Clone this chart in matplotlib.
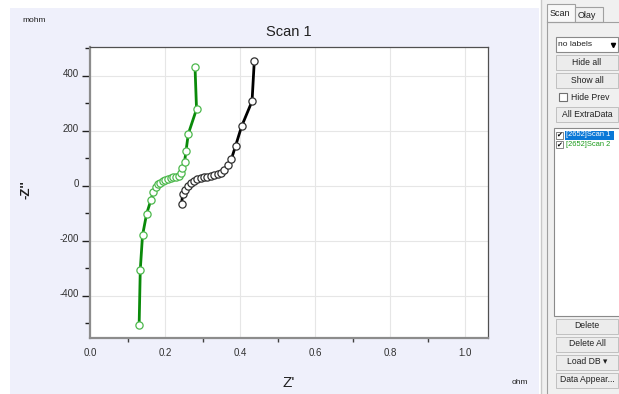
import numpy as np
import matplotlib
matplotlib.use("Agg")
import matplotlib.pyplot as plt
from matplotlib.patches import Rectangle
from matplotlib.ticker import FixedLocator
import matplotlib.transforms as mtransforms

plt.rcParams["font.family"] = ["Liberation Sans", "DejaVu Sans"]

# -----------------------------
# data (Z' in ohm, -Z'' in mohm)
# -----------------------------
scan1_zre = [0.244, 0.247, 0.253, 0.260, 0.268, 0.277, 0.286, 0.295, 0.304, 0.313, 0.322,
             0.331, 0.340, 0.349, 0.358, 0.367, 0.377, 0.388, 0.404, 0.432, 0.438]
scan1_zim = [-66, -31, -15, -2, 12, 19, 25, 29, 32, 34, 35,
             38, 42, 48, 59, 75, 98, 145, 216, 308, 455]

scan2_zre = [0.131, 0.134, 0.140, 0.151, 0.162, 0.169, 0.175, 0.181, 0.187, 0.194, 0.201, 0.208,
             0.215, 0.222, 0.229, 0.236, 0.242, 0.245, 0.252, 0.256, 0.262, 0.284, 0.280]
scan2_zim = [-505, -305, -180, -101, -53, -21, -3, 6, 12, 16, 20, 24,
             28, 32, 34, 37, 46, 66, 87, 127, 189, 279, 431]

x_ticks = [0.0, 0.2, 0.4, 0.6, 0.8, 1.0]
y_ticks = [-400, -200, 0, 200, 400]

list_items = ["[2652]Scan 1", "[2652]Scan 2"]
top_buttons = ["Hide all", "Show all"]
bottom_buttons = ["Delete", "Delete All", "Load DB \u25be", "Data Appear..."]

W, H = 619, 394
fig = plt.figure(figsize=(W / 100, H / 100), dpi=100)
fig.patch.set_facecolor("white")

# -----------------------------
# background / window (pixel coords)
# -----------------------------
bg = fig.add_axes([0, 0, 1, 1], zorder=0)
bg.set_xlim(0, W)
bg.set_ylim(H, 0)
bg.axis("off")

bg.add_patch(Rectangle((10, 8), 529, 386, facecolor="#eff0fb", edgecolor="none"))
bg.add_patch(Rectangle((541, 0), 78, H, facecolor="#f0f0f0", edgecolor="none"))
bg.plot([541, 541], [0, H], color="#c8c8c8", lw=1)
bg.plot([547, 547], [22, H], color="#a0a0a0", lw=0.8)
bg.plot([547, 619], [22, 22], color="#a0a0a0", lw=0.8)

# tabs
bg.add_patch(Rectangle((547, 4), 28, 18, facecolor="#f8f8f8", edgecolor="#a0a0a0", lw=0.8))
bg.add_patch(Rectangle((575, 7), 28, 15, facecolor="#f0f0f0", edgecolor="#a0a0a0", lw=0.8))
bg.text(550, 13, "Scan", fontsize=6.5, va="center", ha="left", color="#202020")
bg.text(578, 15, "Olay", fontsize=6.5, va="center", ha="left", color="#202020")

# dropdown
bg.add_patch(Rectangle((556, 37), 62, 15, facecolor="white", edgecolor="#8a8a8a", lw=0.8))
bg.text(558, 44.5, "no labels", fontsize=6, va="center", ha="left", color="#202020")
bg.plot([613], [44.5], marker="v", color="black", markersize=3)


def button(y, label):
    bg.add_patch(Rectangle((556, y), 62, 15, facecolor="#ececec", edgecolor="#c0c0c0", lw=0.7))
    bg.text(587, y + 7.5, label, fontsize=6.2, va="center", ha="center", color="#202020")


for i, lab in enumerate(top_buttons):
    button(55 + i * 17.5, lab)

# checkbox
bg.add_patch(Rectangle((559, 93), 8, 8, facecolor="white", edgecolor="#707070", lw=0.8))
bg.text(571, 97.5, "Hide Prev", fontsize=6.2, va="center", ha="left", color="#202020")
button(107, "All ExtraData")

# list box
bg.add_patch(Rectangle((554, 128), 66, 188, facecolor="white", edgecolor="#8a8a8a", lw=0.8))
item_colors = ["white", "#1a9a1a"]
for i, lab in enumerate(list_items):
    yc = 135 + i * 9.5
    bg.add_patch(Rectangle((556, yc - 3.5), 7, 7, facecolor="white", edgecolor="#707070", lw=0.6))
    bg.text(559.5, yc, "\u2714", fontsize=5, va="center", ha="center", color="black",
            family=["DejaVu Sans"])
    if i == 0:
        bg.add_patch(Rectangle((565, yc - 4.5), 49, 9, facecolor="#0a78d7", edgecolor="none"))
    bg.text(566, yc, lab, fontsize=5.4, va="center", ha="left", color=item_colors[i])

for i, lab in enumerate(bottom_buttons):
    button(318.5 + i * 18, lab)

# chart labels
bg.text(22, 20, "mohm", fontsize=6, va="center", ha="left", color="#202020")
bg.text(512, 382, "ohm", fontsize=6, va="center", ha="left", color="#202020")
bg.text(289, 32, "Scan 1", fontsize=10.5, va="center", ha="center", color="#202020")
bg.text(289, 383, "Z'", fontsize=11, va="center", ha="center", color="#202020")
bg.text(26, 190, "-Z''", fontsize=9.5, va="center", ha="center", rotation=90,
        fontweight="bold", color="#202020")

# -----------------------------
# chart
# -----------------------------
left, right, top, bottom = 90, 488, 47, 338
ax = fig.add_axes([left / W, 1 - bottom / H, (right - left) / W, (bottom - top) / H], zorder=1)
ax.set_facecolor("white")

ax.plot(scan1_zre, scan1_zim, color="black", lw=2, zorder=3,
        marker="o", markersize=5.2, markerfacecolor="white",
        markeredgecolor="#303030", markeredgewidth=0.9)
ax.plot(scan2_zre, scan2_zim, color="#0a8a0a", lw=2, zorder=3,
        marker="o", markersize=5.2, markerfacecolor="white",
        markeredgecolor="#4cb84c", markeredgewidth=0.9)

ax.set_xlim(0, 1.061)
ax.set_ylim(-553, 505)

ax.set_xticks(x_ticks)
ax.set_xticklabels([f"{v:.1f}" for v in x_ticks])
ax.xaxis.set_minor_locator(FixedLocator([0.1, 0.3, 0.5, 0.7, 0.9]))
ax.set_yticks(y_ticks)
ax.set_yticklabels([str(v) for v in y_ticks])
ax.yaxis.set_minor_locator(FixedLocator([-500, -300, -100, 100, 300, 500]))

ax.grid(True, which="major", color="#e6e6e6", lw=0.8)
ax.set_axisbelow(True)

ax.tick_params(axis="x", which="major", length=0, pad=7, labelsize=7, labelcolor="#303030")
ax.tick_params(axis="x", which="minor", length=3, width=1, color="#404040", direction="out")
ax.tick_params(axis="y", which="major", length=6, width=1, color="#202020", pad=2,
               labelsize=7, labelcolor="#303030")
ax.tick_params(axis="y", which="minor", length=3.5, width=1, color="#202020")

for side in ["left", "bottom"]:
    ax.spines[side].set_color("#8c8c8c")
    ax.spines[side].set_linewidth(1.6)
for side in ["top", "right"]:
    ax.spines[side].set_color("#505050")
    ax.spines[side].set_linewidth(0.9)

# y labels sit a little above their ticks
offset = mtransforms.ScaledTranslation(0, 0.03, fig.dpi_scale_trans)
for lab in ax.get_yticklabels():
    lab.set_transform(lab.get_transform() + offset)

fig.savefig("out.png", dpi=100)
plt.close(fig)
